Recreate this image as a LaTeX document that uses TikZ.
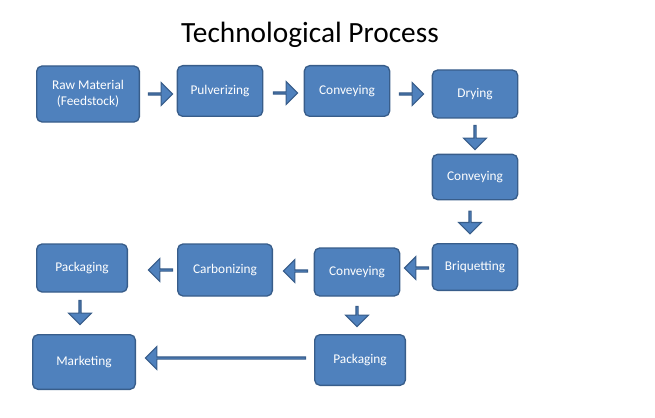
\documentclass[tikz,border=0pt]{standalone}
\usepackage{fontspec}
\setmainfont{Carlito}
\usetikzlibrary{shapes.arrows}
\definecolor{boxblue}{HTML}{4F81BD}
\definecolor{boxline}{HTML}{385D8A}
\tikzset{
  stage/.style={draw=boxline, line width=1pt, fill=boxblue, rounded corners=4pt,
    text=white, font=\fontsize{10}{12}\selectfont, align=center, inner sep=2pt},
  barrow/.style={single arrow, draw=boxline, line width=0.8pt, fill=boxblue,
    minimum width=17pt, single arrow head extend=4pt, inner sep=0pt,
    single arrow head indent=0pt}
}
\begin{document}
\begin{tikzpicture}[x=0.75pt, y=-0.75pt]
\useasboundingbox (0,0) rectangle (655,417);
\node[font=\fontsize{22}{26}\selectfont] (title) at (310,35) {Technological Process};
% first row
\node[stage, minimum width=77pt, minimum height=42pt] (raw) at (88,94) {Raw Material\\(Feedstock)};
\node[stage, minimum width=64pt, minimum height=38pt] (pulv) at (220,91) {Pulverizing};
\node[stage, minimum width=64pt, minimum height=38pt] (conv1) at (347,91) {Conveying};
\node[stage, minimum width=64pt, minimum height=36pt] (dry) at (475,94) {Drying};
% right column
\node[stage, minimum width=64pt, minimum height=34pt] (conv2) at (475,177) {Conveying};
\node[stage, minimum width=64pt, minimum height=35pt] (briq) at (475,267) {Briquetting};
% second row
\node[stage, minimum width=64pt, minimum height=36pt] (conv3) at (357,272) {Conveying};
\node[stage, minimum width=71pt, minimum height=39pt] (carb) at (225,270) {Carbonizing};
\node[stage, minimum width=68pt, minimum height=36pt] (pack1) at (82,268) {Packaging};
% last row
\node[stage, minimum width=77pt, minimum height=41pt] (mark) at (84,362) {Marketing};
\node[stage, minimum width=68pt, minimum height=38pt] (pack2) at (360,360) {Packaging};
% block arrows
\node[barrow, minimum height=18pt] (a1) at (160,94) {};
\node[barrow, minimum height=18pt] (a2) at (285,93) {};
\node[barrow, minimum height=18pt] (a3) at (411,94) {};
\node[barrow, minimum height=18pt, rotate=-90] (a4) at (475,137) {};
\node[barrow, minimum height=17pt, rotate=-90] (a5) at (470,222) {};
\node[barrow, minimum height=18pt, rotate=180] (a6) at (417,268) {};
\node[barrow, minimum height=18pt, rotate=180] (a7) at (296,271) {};
\node[barrow, minimum height=18pt, rotate=180] (a8) at (161,270) {};
\node[barrow, minimum height=18pt, rotate=-90] (a9) at (80,312) {};
\node[barrow, minimum height=15pt, rotate=-90] (a10) at (357,316) {};
\node[barrow, minimum height=120pt, rotate=180] (a11) at (226,358) {};
\end{tikzpicture}
\end{document}
